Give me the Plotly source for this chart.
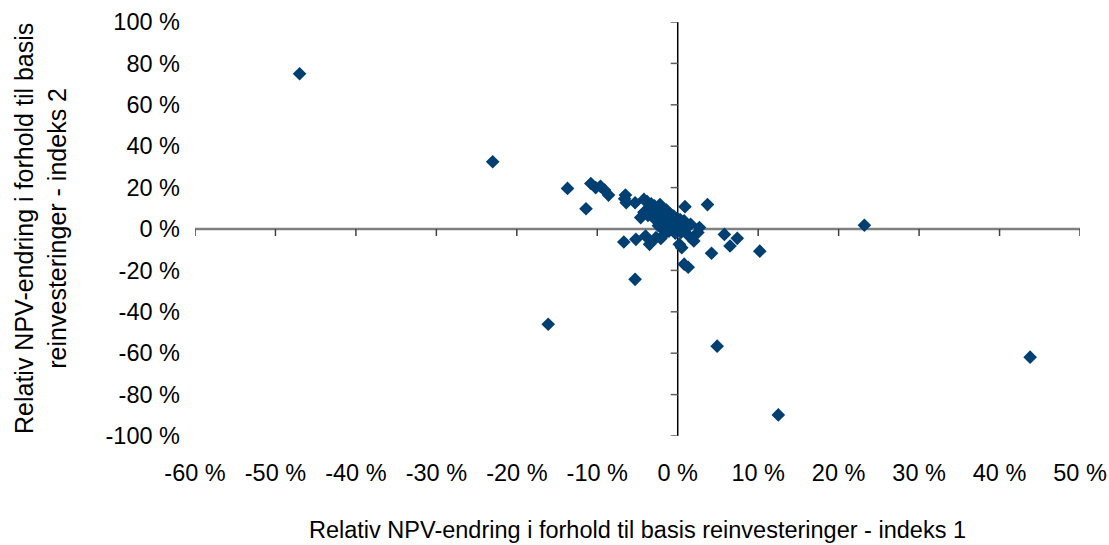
import plotly.graph_objects as go

# Relative NPV change (%) versus base reinvestments, index 1 (x) and index 2 (y)
npv_index1 = [
    -47.0, -23.0, -16.1, -5.3, 4.9, 12.5, 23.2, 43.8,
    -13.7, -10.8, -10.2, -9.6, -9.1, -8.6, -11.4,
    -6.5, -6.6, -6.4, -5.3, -4.2, -4.6,
    -3.8, -3.3, -2.9, -2.5, -2.1, -1.7, -1.3, -0.9, -0.5, -0.1, 0.3,
    -3.6, -3.1, -2.6, -2.1, -1.6, -1.1, -0.6, -0.2,
    -4.2, -3.7, -2.8, -1.9, -1.3, -0.7, -1.6, -2.4, -0.3, 0.5, 1.1,
    -3.0, -2.2, -1.4, -0.8, -1.9, -2.7,
    0.9, 3.7, 0.8, 1.6, 2.7, 2.5, 1.4, 0.4, -0.2, -1.1, -1.9, -2.7,
    -4.0, -5.2, -6.7, 0.2, 2.0, 0.5, 0.8, 1.3,
    4.2, 5.8, 6.5, 7.4, 10.2, -3.5, -2.1,
]
npv_index2 = [
    75.0, 32.5, -46.0, -24.3, -56.6, -89.8, 1.8, -61.9,
    19.6, 22.0, 20.0, 20.6, 18.8, 16.4, 9.8,
    16.4, 14.6, 12.7, 12.7, 14.3, 5.5,
    13.2, 12.2, 11.2, 10.3, 9.6, 8.6, 7.8, 7.1, 6.2, 5.2, 4.6,
    10.2, 8.7, 7.2, 6.2, 5.1, 4.2, 3.1, 2.1,
    8.1, 6.6, 4.6, 2.6, 1.1, 0.1, -1.0, 1.6, -2.0, 1.0, 1.0,
    10.5, 11.8, 9.2, 5.8, 3.8, 6.0,
    10.8, 11.8, 3.9, 2.3, 0.7, -1.7, -3.4, -1.7, 1.4, -1.0, -3.4, -4.2,
    -3.4, -5.0, -6.3, -7.4, -5.8, -9.0, -17.0, -18.5,
    -11.7, -2.6, -8.2, -4.5, -10.7, -7.4, -4.6,
]

x_ticks = [-60, -50, -40, -30, -20, -10, 0, 10, 20, 30, 40, 50]
y_ticks = [-100, -80, -60, -40, -20, 0, 20, 40, 60, 80, 100]
x_labels = [f"{v} %" for v in x_ticks]
y_labels = [f"{v} %" for v in y_ticks]

x_title = "Relativ NPV-endring i forhold til basis reinvesteringer - indeks 1"
y_title = "Relativ NPV-endring i forhold til basis<br>reinvesteringer - indeks 2"

FONT = "Liberation Sans, Arial, sans-serif"
MARKER = "#003F72"

fig = go.Figure()
fig.add_trace(go.Scatter(
    x=npv_index1, y=npv_index2, mode="markers",
    marker=dict(symbol="diamond", size=10.5, color=MARKER, line=dict(width=0)),
    hoverinfo="x+y", showlegend=False,
))

shapes = []
# axes crossing at zero
shapes.append(dict(type="line", xref="x", yref="y", x0=x_ticks[0], x1=x_ticks[-1], y0=0, y1=0,
                   line=dict(color="#808080", width=2.5), layer="below"))
shapes.append(dict(type="line", xref="x", yref="y", x0=0, x1=0, y0=y_ticks[0], y1=y_ticks[-1],
                   line=dict(color="#000000", width=1.5), layer="below"))
# tick marks on the crossing axes
for v in x_ticks:
    shapes.append(dict(type="line", xref="x", yref="y", ysizemode="pixel", yanchor=0,
                       x0=v, x1=v, y0=0, y1=-7, line=dict(color="#404040", width=1.5), layer="below"))
for v in y_ticks:
    shapes.append(dict(type="line", xref="x", yref="y", xsizemode="pixel", xanchor=0,
                       y0=v, y1=v, x0=0, x1=-7, line=dict(color="#606060", width=1.5), layer="below"))

fig.update_layout(
    width=1109, height=545,
    margin=dict(l=195, r=29, t=22, b=109),
    paper_bgcolor="white", plot_bgcolor="white",
    font=dict(family=FONT, size=23.5, color="black"),
    shapes=shapes,
    xaxis=dict(range=[x_ticks[0], x_ticks[-1]], tickvals=x_ticks, ticktext=x_labels,
               showgrid=False, zeroline=False, showline=False, ticks="",
               ticklabelstandoff=20, automargin=False),
    yaxis=dict(range=[y_ticks[0], y_ticks[-1]], tickvals=y_ticks, ticktext=y_labels,
               showgrid=False, zeroline=False, showline=False, ticks="",
               ticklabelstandoff=14, automargin=False),
    annotations=[
        dict(text=x_title, xref="paper", yref="paper", x=0.5, y=0, yshift=-94,
             xanchor="center", yanchor="middle", showarrow=False,
             font=dict(family=FONT, size=23.5)),
        dict(text=y_title, xref="paper", yref="paper", x=0, y=0.5, xshift=-155,
             xanchor="center", yanchor="middle", textangle=-90, showarrow=False,
             font=dict(family=FONT, size=25)),
    ],
)

fig.write_html("out.html")
